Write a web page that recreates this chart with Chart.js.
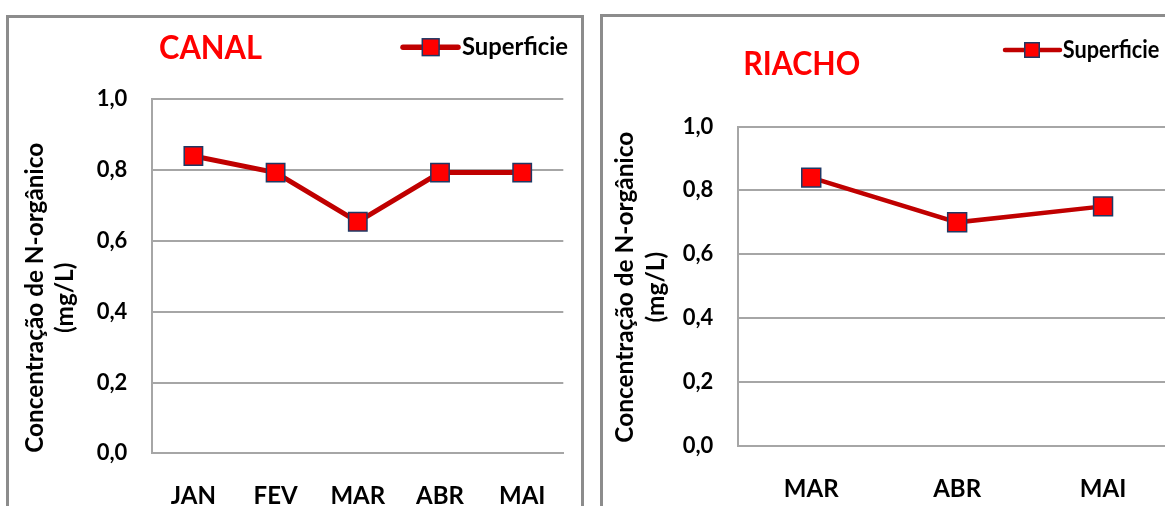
<!DOCTYPE html>
<html>
<head>
<meta charset="utf-8">
<title>Concentração de N-orgânico</title>
<script src="https://cdn.jsdelivr.net/npm/chart.js@4.4.1/dist/chart.umd.min.js"></script>
<style>
  html, body { margin: 0; padding: 0; background: #ffffff; width: 1165px; height: 506px; overflow: hidden; }
  .panel { position: absolute; border: 3px solid #8c8c8c; background: #ffffff; overflow: hidden; }
  #panelCanal  { left: 6px;   top: 15px; width: 572px; height: 600px; }
  #panelRiacho { left: 600px; top: 14px; width: 640px; height: 600px; }
  canvas { display: block; }
</style>
</head>
<body>
<div class="panel" id="panelCanal"><canvas id="chartCanal" width="572" height="510"></canvas></div>
<div class="panel" id="panelRiacho"><canvas id="chartRiacho" width="620" height="510"></canvas></div>
<script>
// ---- data ----
const canalMonths  = ['JAN', 'FEV', 'MAR', 'ABR', 'MAI'];
const canalValues  = [0.84, 0.793, 0.654, 0.793, 0.793];
const riachoMonths = ['MAR', 'ABR', 'MAI'];
const riachoValues = [0.84, 0.70, 0.75];
const yTickLabels  = ['0,0', '0,2', '0,4', '0,6', '0,8', '1,0'];
const seriesName   = 'Superficie';
const yTitleLines  = ['Concentração de N-orgânico', '(mg/L)'];

const FONT = 'Lato';
const LINE_RED = '#c00000';
const MARK_RED = '#ff0000';
const MARK_EDGE = '#1f3864';
const GRID = '#a6a6a6';

// draws text starting at (x, y), squeezed or stretched along its run to the given length
function runText(ctx, text, x, y, font, color, length, vertical) {
  ctx.save();
  ctx.translate(x, y);
  if (vertical) ctx.rotate(-Math.PI / 2);
  ctx.font = font;
  const natural = ctx.measureText(text).width;
  ctx.scale(length / natural, 1);
  ctx.fillStyle = color;
  ctx.textAlign = 'left';
  ctx.textBaseline = 'alphabetic';
  ctx.fillText(text, 0, 0);
  ctx.restore();
  return length / natural;
}

// panel title, series key and two-line value-axis title
const panelDecor = {
  id: 'panelDecor',
  afterDraw(chart, args, o) {
    const ctx = chart.ctx;
    const ds = chart.data.datasets[0];

    runText(ctx, o.title.text, o.title.x, o.title.y, 'bold ' + o.title.size + 'px ' + FONT,
            MARK_RED, o.title.length, false);

    // series key: line, square marker, name
    const k = o.key;
    ctx.save();
    ctx.strokeStyle = ds.borderColor;
    ctx.lineWidth = k.lineWidth;
    ctx.lineCap = 'round';
    ctx.beginPath();
    ctx.moveTo(k.x0, k.y);
    ctx.lineTo(k.x1, k.y);
    ctx.stroke();
    const s = k.mark;
    ctx.fillStyle = ds.pointBackgroundColor;
    ctx.strokeStyle = ds.pointBorderColor;
    ctx.lineWidth = ds.pointBorderWidth;
    ctx.fillRect(k.mx - s / 2, k.y - s / 2, s, s);
    ctx.strokeRect(k.mx - s / 2, k.y - s / 2, s, s);
    ctx.restore();
    runText(ctx, ds.label, k.tx, k.ty, 'bold ' + k.size + 'px ' + FONT, '#000000', k.length, false);

    // value axis title, read bottom to top
    const t = o.yTitle;
    const f = 'bold ' + t.size + 'px ' + FONT;
    ctx.font = f;
    const n0 = ctx.measureText(yTitleLines[0]).width;
    const scale = t.length / n0;
    runText(ctx, yTitleLines[0], t.x0, t.cy + t.length / 2, f, '#000000', t.length, true);
    ctx.font = f;
    const l1 = ctx.measureText(yTitleLines[1]).width * scale;
    runText(ctx, yTitleLines[1], t.x1, t.cy + l1 / 2, f, '#000000', l1, true);
  }
};

function buildChart(canvasId, months, values, g) {
  return new Chart(document.getElementById(canvasId), {
    type: 'line',
    data: {
      labels: months,
      datasets: [{
        label: seriesName,
        data: values,
        borderColor: LINE_RED,
        borderWidth: g.lineWidth,
        tension: 0,
        pointStyle: 'rect',
        pointRadius: g.pointRadius,
        pointHoverRadius: g.pointRadius,
        pointBackgroundColor: MARK_RED,
        pointBorderColor: MARK_EDGE,
        pointBorderWidth: 1.5
      }]
    },
    options: {
      responsive: false,
      devicePixelRatio: 1,
      animation: false,
      events: [],
      layout: { padding: { top: g.areaTop, right: g.padRight, bottom: 0, left: 0 } },
      plugins: {
        legend: { display: false },
        tooltip: { enabled: false },
        panelDecor: g.decor
      },
      scales: {
        x: {
          type: 'category',
          offset: true,
          grid: { display: false, drawTicks: false },
          border: { display: true, color: GRID, width: 2 },
          ticks: {
            color: '#000000',
            padding: 29,
            maxRotation: 0,
            font: { family: FONT, size: 24, weight: 'bold' }
          },
          afterFit: s => { s.height = g.canvasH - g.areaBottom; }
        },
        y: {
          min: 0,
          max: 1,
          grid: { color: GRID, lineWidth: 2, drawTicks: false },
          border: { display: true, color: GRID, width: 2 },
          ticks: {
            stepSize: 0.2,
            color: '#000000',
            padding: 25,
            font: { family: FONT, size: 22, weight: 'bold' },
            callback: (v, i) => yTickLabels[i]
          },
          afterFit: s => { s.width = g.areaLeft; }
        }
      }
    },
    plugins: [panelDecor]
  });
}

buildChart('chartCanal', canalMonths, canalValues, {
  canvasH: 510, areaLeft: 143.3, areaTop: 81.3, areaBottom: 435.3, padRight: 17.7,
  lineWidth: 5, pointRadius: 13,
  decor: {
    title: { text: 'CANAL', x: 150, y: 41.3, size: 32, length: 103 },
    key: { x0: 394, x1: 449, y: 29.2, mx: 421.7, mark: 16.8, lineWidth: 5.5,
           tx: 453, ty: 37, size: 24, length: 106 },
    yTitle: { x0: 34.3, x1: 64, cy: 279.8, length: 310, size: 25 }
  }
});

buildChart('chartRiacho', riachoMonths, riachoValues, {
  canvasH: 510, areaLeft: 135.3, areaTop: 109.5, areaBottom: 429, padRight: 47,
  lineWidth: 4.5, pointRadius: 13.4,
  decor: {
    title: { text: 'RIACHO', x: 140.3, y: 58, size: 32, length: 117 },
    key: { x0: 402, x1: 457, y: 33, mx: 429, mark: 14.5, lineWidth: 4.5,
           tx: 459.7, ty: 41.3, size: 24, length: 96.7 },
    yTitle: { x0: 30.3, x1: 60.5, cy: 270.2, length: 311, size: 25 }
  }
});
</script>
</body>
</html>
